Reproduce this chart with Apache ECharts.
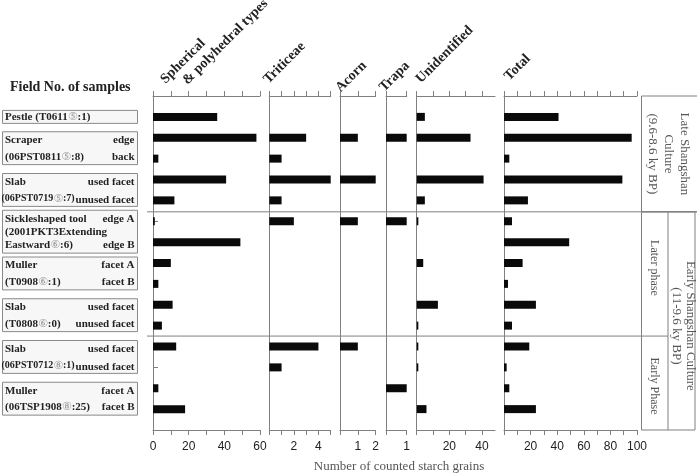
<!DOCTYPE html>
<html><head><meta charset="utf-8">
<script src="https://cdn.jsdelivr.net/npm/echarts@6/dist/echarts.min.js"></script>
<style>html,body{margin:0;padding:0;background:#fff}#c{width:697px;height:475px}</style>
</head><body><div id="c"></div>
<script>
// ---------- data ----------
const rowKeys = ['Pestle','Scraper edge','Scraper back','Slab0719 used','Slab0719 unused',
  'Sickle edge A','Sickle edge B','Muller0908 facet A','Muller0908 facet B','Slab0808 used','Slab0808 unused',
  'Slab0712 used','Slab0712 unused','Muller1908 facet A','Muller1908 facet B'];
const facets = ['','edge','back','used facet','unused facet','edge A','edge B','facet A','facet B',
  'used facet','unused facet','used facet','unused facet','facet A','facet B'];
const sampleNames = [
  ['Pestle (T0611⑤:1)'],
  ['Scraper','(06PST0811⑤:8)'],
  ['Slab','(06PST0719⑤:7)'],
  ['Sickleshaped tool','(2001PKT3Extending','Eastward⑥:6)'],
  ['Muller','(T0908⑥:1)'],
  ['Slab','(T0808⑥:0)'],
  ['Slab','(06PST0712⑧:1)'],
  ['Muller','(06TSP1908⑧:25)']
];
const sampleRowCounts = [1,2,2,2,2,2,2,2];

const spherical    = [36,58,3,41,12,1,49,10,3,11,5,13,0,3,18];
const triticeae    = [0,3,1,5,1,2,0,0,0,0,0,4,1,0,0];
const acorn        = [0,1,0,2,0,1,0,0,0,0,0,1,0,0,0];
const trapa        = [0,1,0,0,0,1,0,0,0,0,0,0,0,1,0];
const unidentified = [5,33,0,41,5,1,0,4,0,13,1,1,1,0,6];
const total        = [41,96,4,89,18,6,49,14,3,24,6,19,2,4,24];

const panelHeaders = [['Spherical','& polyhedral types'],['Triticeae'],['Acorn'],['Trapa'],['Unidentified'],['Total']];
const panelMax = [60,5,2,1,48,100];
const panelTicks = [[0,10,20,30,40,50,60],[0,1,2,3,4,5],[0,1,2],[0,1],[0,10,20,30,40],[0,10,20,30,40,50,60,70,80,90,100]];
const panelTickLabels = [[0,20,40,60],[2,4],[1,2],[1],[20,40],[20,40,60,80,100]];
const periodLabels = ['Late Shangshan\nCulture\n(9.6-8.6 ky BP)','Later phase','Early Phase','Early Shangshan Culture\n(11-9.6 ky BP)'];
const axisTitle = 'Number of counted starch grains';
const fieldTitle = 'Field No. of samples';

// ---------- layout / style ----------
const seriesData = [spherical, triticeae, acorn, trapa, unidentified, total];
const gridLeft = [153, 269.3, 340, 386, 416.7, 504];
const gridWidth = [107, 61.4, 35.7, 20.7, 78.3, 133];
const gridTop = 96, gridHeight = 334;
const headerOffsets = [[[14.9,86.4],[36.9,87.4]],[[1.6,86.4]],[[2.9,95]],[[0.6,94.4]],[[6.5,86]],[[7.6,83.4]]];
const LINE = '#808080';
const SERIF = '"Liberation Serif","Times New Roman",serif';
const SANS = '"Liberation Sans",Arial,sans-serif';

const yCats = [''].concat(rowKeys, [' ']);
const chart = echarts.init(document.getElementById('c'));

const grids = [], xAxes = [], yAxes = [], series = [];
for (let i = 0; i < 6; i++) {
  grids.push({left: gridLeft[i], width: gridWidth[i], top: gridTop, height: gridHeight});
  const base = {gridIndex: i, type: 'value', min: 0, max: panelMax[i], splitLine: {show: false},
    axisLine: {show: true, lineStyle: {color: LINE, width: 1}},
    axisTick: {show: true, length: 5, customValues: panelTicks[i], lineStyle: {color: LINE}}};
  xAxes.push(Object.assign({}, base, {position: 'bottom',
    axisLabel: {show: true, customValues: panelTickLabels[i], margin: 11, fontSize: 12, fontFamily: SANS, color: '#222'}}));
  xAxes.push(Object.assign({}, base, {position: 'top', axisLabel: {show: false}}));
  yAxes.push({gridIndex: i, type: 'category', data: yCats, inverse: true, boundaryGap: false,
    axisLine: {show: true, lineStyle: {color: LINE}}, axisTick: {show: false}, axisLabel: {show: false}, splitLine: {show: false}});
  series.push({type: 'bar', xAxisIndex: 2 * i, yAxisIndex: i, barWidth: 8, silent: true,
    itemStyle: {color: '#0a0a0a'}, data: ['-'].concat(seriesData[i], ['-'])});
}
yAxes.push({gridIndex: 0, type: 'category', data: yCats, inverse: true, boundaryGap: false, offset: 6,
  axisLine: {show: true, lineStyle: {color: LINE}},
  axisTick: {show: true, length: 5, interval: (idx) => idx > 0 && idx < yCats.length - 1, lineStyle: {color: LINE}},
  axisLabel: {show: false}});

chart.setOption({animation: false, grid: grids, xAxis: xAxes, yAxis: yAxes, series: series});

// ---------- annotations positioned through the axes ----------
const rowY = k => chart.convertToPixel({yAxisIndex: 0}, k + 1);
const zeroX = i => chart.convertToPixel({xAxisIndex: 2 * i}, 0);
const endX = i => chart.convertToPixel({xAxisIndex: 2 * i}, panelMax[i]);
const topY = gridTop, botY = gridTop + gridHeight;
const g = [];
const txt = (text, x, y, o) => g.push(Object.assign({type: 'text', x: x, y: y, silent: true,
  style: Object.assign({text: text, fill: '#222', font: 'bold 11px ' + SERIF,
    textAlign: 'left', align: 'left', textVerticalAlign: 'middle', verticalAlign: 'middle'}, o && o.style || {})},
  o && o.rotation !== undefined ? {rotation: o.rotation} : {}));
const line = (x1, y1, x2, y2) => g.push({type: 'line', silent: true, shape: {x1, y1, x2, y2}, style: {stroke: LINE, lineWidth: 1}});
const circ = t => t.replace(/([⑤⑥⑧])/g, '{c|$1}');
const circRich = {c: {fontSize: 11, fontWeight: 'normal', fontFamily: '"DejaVu Sans",sans-serif', fill: '#9a9a9a'}};

// title
txt(fieldTitle, 10, 87, {style: {font: 'bold 14px ' + SERIF}});

// column headers
for (let i = 0; i < 6; i++) {
  panelHeaders[i].forEach((h, j) => {
    const off = headerOffsets[i][j];
    txt(h, zeroX(i) + off[0], off[1], {rotation: Math.PI / 4,
      style: {font: 'bold 14px ' + SERIF, textVerticalAlign: 'bottom', verticalAlign: 'bottom'}});
  });
}

// sample boxes
let r = 0;
const boxL = 2.5, boxR = 137.5;
sampleNames.forEach((lines, gi) => {
  const a = r, b = r + sampleRowCounts[gi] - 1;
  let ys;
  if (lines.length === 1) ys = [rowY(a)];
  else if (lines.length === 2) ys = [rowY(a) + 2.5, rowY(b) - 1.5];
  else { const y1 = rowY(a) - 2.5, y3 = rowY(b) + 3.5; ys = [y1, (y1 + y3) / 2, y3]; }
  const top = lines.length === 1 ? ys[0] - 6.5 : ys[0] - 8.5;
  const bot = lines.length === 1 ? ys[0] + 6.5 : ys[ys.length - 1] + 7.5;
  g.push({type: 'rect', silent: true, shape: {x: boxL, y: top, width: boxR - boxL, height: bot - top},
    style: {fill: '#f7f7f7', stroke: '#8a8a8a', lineWidth: 1}});
  const tight = sampleRowCounts[gi] > 1 && facets[b].length > 11;
  lines.forEach((t, j) => {
    const small = tight && j > 0 && t.length > 12;
    txt(circ(t), small ? boxL - 1 : boxL + 2.5, ys[j],
      {style: {rich: circRich, font: (small ? 'bold 10px ' : 'bold 11px ') + SERIF}});
  });
  if (sampleRowCounts[gi] > 1) {
    const dropLast = tight && lines[lines.length - 1].length > 12;
    txt(facets[a], boxR - 3, ys[0], {style: {textAlign: 'right', align: 'right'}});
    txt(facets[b], boxR - 3, ys[ys.length - 1] + (dropLast ? 1.5 : 0), {style: {textAlign: 'right', align: 'right'}});
  }
  r = b + 1;
});

// dividers
const div1 = (rowY(4) + rowY(5)) / 2 + 1;
const div2 = (rowY(10) + rowY(11)) / 2;
const leftLine = zeroX(0) - 6;
const boxX = 641.5, midX = 668, rightX = 695;
line(leftLine, div1, 697, div1);
line(leftLine, div2, midX, div2);
g.push({type: 'rect', silent: true, shape: {x: boxX, y: topY, width: 697 - boxX + 2, height: div1 - topY}, style: {fill: 'none', stroke: LINE, lineWidth: 1}});
g.push({type: 'rect', silent: true, shape: {x: boxX, y: div1, width: rightX - boxX, height: botY - div1}, style: {fill: 'none', stroke: LINE, lineWidth: 1}});
line(midX, div1, midX, botY);

const rt = (t, x, y, fs, lh) => txt(t, x, y, {rotation: -Math.PI / 2,
  style: {font: fs + 'px ' + SERIF, fill: '#555', textAlign: 'center', align: 'center', lineHeight: lh}});
rt(periodLabels[0], (boxX + 697) / 2 - 0.5, (topY + div1) / 2, 13, 16);
rt(periodLabels[1], (boxX + midX) / 2 - 1, (div1 + div2) / 2 - 6, 12, 14);
rt(periodLabels[2], (boxX + midX) / 2 - 0.5, (div2 + botY) / 2 + 3, 12, 14);
rt(periodLabels[3], (midX + rightX) / 2 + 2, (div1 + botY) / 2 + 5, 13, 14);

// axis title
txt(axisTitle, (zeroX(0) + endX(5)) / 2 + 4, 467, {style: {font: '13px ' + SERIF, fill: '#555', textAlign: 'center', align: 'center'}});

chart.setOption({graphic: g});
</script>
</body></html>
